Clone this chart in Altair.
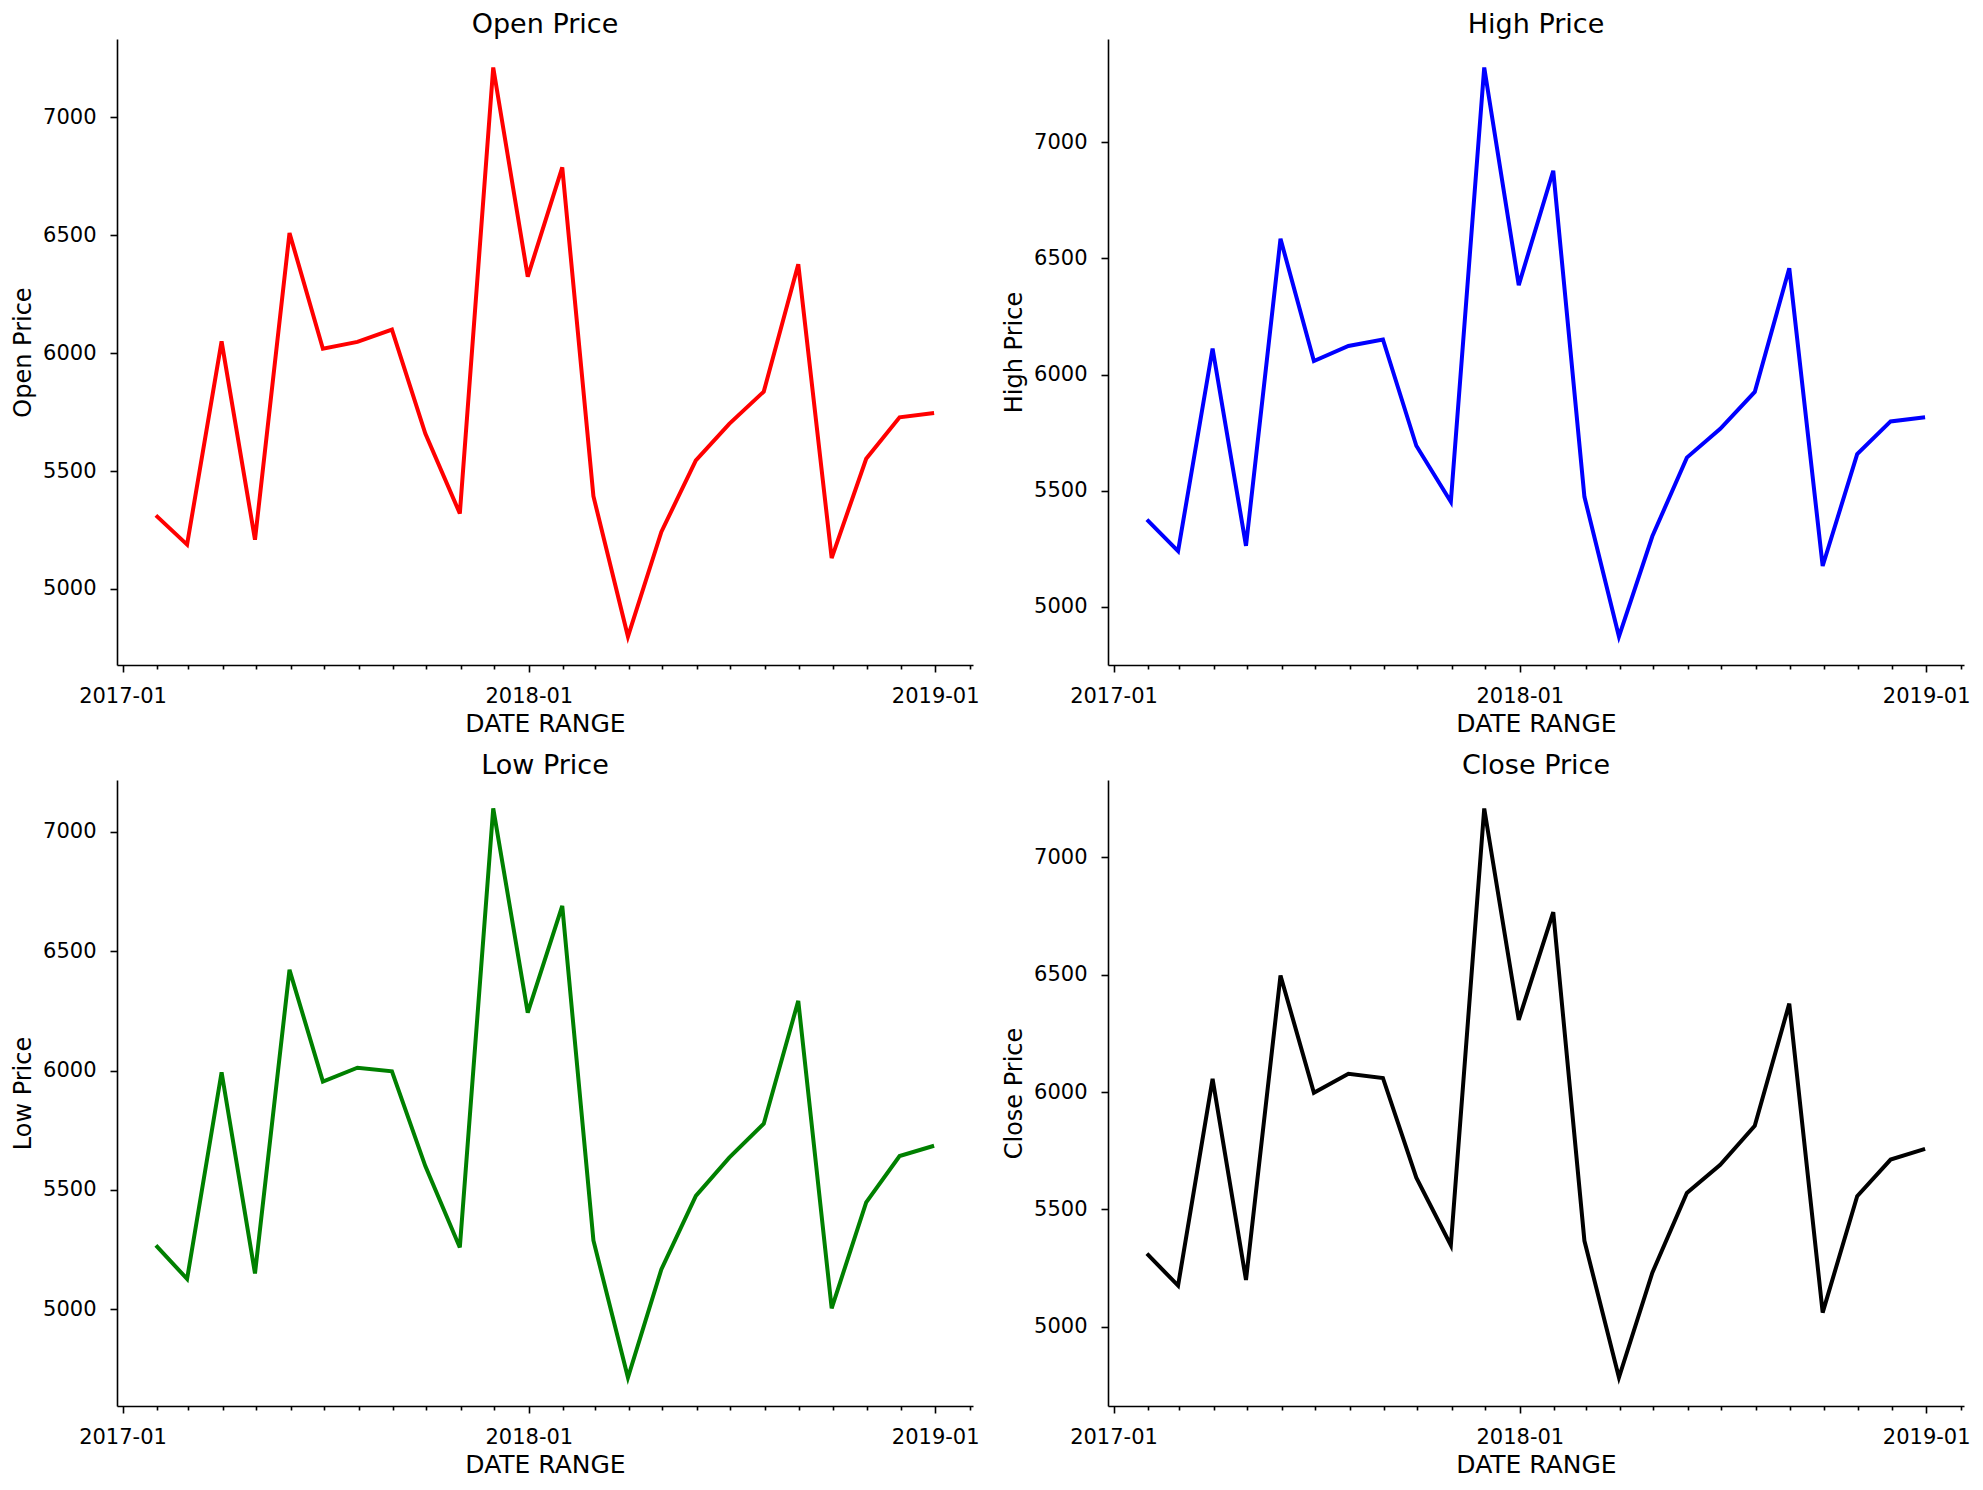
import altair as alt
import pandas as pd

# ---- data ----
dates = ["2017-01-31", "2017-02-28", "2017-03-31", "2017-04-30", "2017-05-31", "2017-06-30",
         "2017-07-31", "2017-08-31", "2017-09-30", "2017-10-31", "2017-11-30", "2017-12-31",
         "2018-01-31", "2018-02-28", "2018-03-31", "2018-04-30", "2018-05-31", "2018-06-30",
         "2018-07-31", "2018-08-31", "2018-09-30", "2018-10-31", "2018-11-30", "2018-12-31"]

open_vals = [5312, 5188, 6050, 5209, 6510, 6019, 6048, 6100, 5659, 5320, 7212, 6325,
             6788, 5393, 4798, 5242, 5545, 5700, 5837, 6377, 5131, 5552, 5728, 5746]
high_vals = [5375, 5239, 6112, 5262, 6585, 6058, 6123, 6151, 5693, 5452, 7323, 6385,
             6878, 5473, 4871, 5303, 5642, 5766, 5925, 6458, 5175, 5657, 5798, 5816]
low_vals = [5268, 5127, 5993, 5150, 6422, 5954, 6012, 5997, 5600, 5259, 7098, 6243,
            6690, 5288, 4714, 5167, 5475, 5635, 5777, 6292, 5004, 5448, 5642, 5685]
close_vals = [5311, 5175, 6056, 5199, 6497, 5997, 6078, 6060, 5635, 5347, 7209, 6308,
              6767, 5366, 4783, 5230, 5570, 5690, 5856, 6377, 5060, 5556, 5712, 5758]

panels = [
    ("Open Price", "Open Price", open_vals, "#ff0000"),
    ("High Price", "High Price", high_vals, "#0000ff"),
    ("Low Price", "Low Price", low_vals, "#008000"),
    ("Close Price", "Close Price", close_vals, "#000000"),
]

FONT = "DejaVu Sans"
W, H = 856, 626

ts = pd.to_datetime(dates)
tmin, tmax = ts.min(), ts.max()
span = tmax - tmin
x_lo = tmin - span * 0.05
x_hi = tmax + span * 0.05
to_ms = lambda t: int(pd.Timestamp(t).value // 10**6)
x_domain = [to_ms(x_lo), to_ms(x_hi)]
month_ticks = [to_ms(t) for t in pd.date_range("2017-01-01", "2019-02-01", freq="MS")]

def panel(title, ylabel, vals, color):
    df = pd.DataFrame({"date": dates, "value": vals})
    lo, hi = min(vals), max(vals)
    r = hi - lo
    y_domain = [lo - 0.05 * r, hi + 0.05 * r]
    return alt.Chart(df).mark_line(color=color, strokeWidth=4).encode(
        x=alt.X("date:T", title="DATE RANGE",
                scale=alt.Scale(type="utc", domain=x_domain, nice=False),
                axis=alt.Axis(values=month_ticks,
                              labelExpr="utcmonth(datum.value) == 0 ? utcFormat(datum.value, '%Y-%m') : ''",
                              tickSize={"condition": {"test": "utcmonth(datum.value) == 0", "value": 7},
                                        "value": 4},
                              labelOverlap=False, labelFlush=False,
                              labelPadding=13, titlePadding=5)),
        y=alt.Y("value:Q", title=ylabel,
                scale=alt.Scale(domain=y_domain, nice=False, zero=False),
                axis=alt.Axis(values=[5000, 5500, 6000, 6500, 7000], format="d",
                              tickSize=7, labelPadding=14, titlePadding=7,
                              minExtent=75, maxExtent=75)),
    ).properties(width=W, height=H,
                 title=alt.TitleParams(title, fontSize=27, font=FONT, fontWeight="normal",
                                       color="black", offset=0))

charts = [panel(*p) for p in panels]

chart = alt.vconcat(
    alt.hconcat(charts[0], charts[1], spacing=22),
    alt.hconcat(charts[2], charts[3], spacing=22),
    spacing=16,
).properties(
    padding={"left": 3, "top": 3, "right": 0, "bottom": 0}
).configure_view(
    stroke=None
).configure_axis(
    grid=False,
    domainColor="black", domainWidth=1.6,
    tickColor="black", tickWidth=1.6,
    labelColor="black", labelFont=FONT, labelFontSize=21,
    titleColor="black", titleFont=FONT, titleFontWeight="normal",
).configure_axisX(
    titleFontSize=25
).configure_axisY(
    titleFontSize=24
)

chart.save("out.html", embed_options={"renderer": "svg", "actions": False})
